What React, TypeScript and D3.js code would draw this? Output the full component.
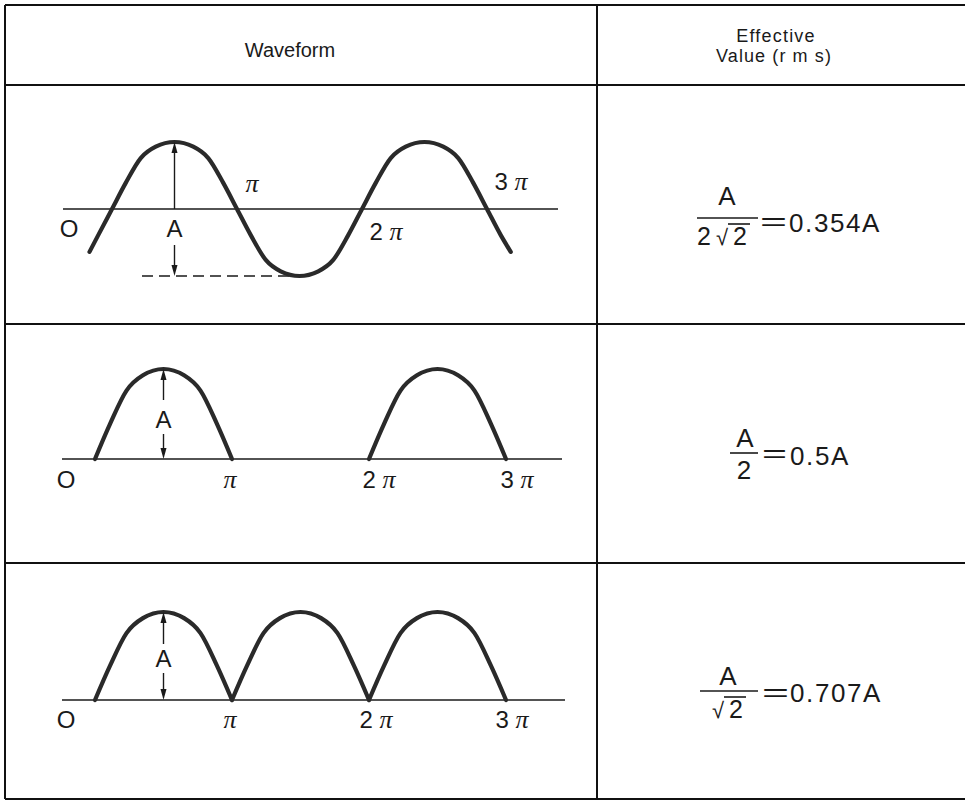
import React from "react";
import * as d3 from "d3";

// one half-period of the drawn hump (t in units of pi, v in units of A)
const humpT = [0, 0.11, 0.23, 0.35, 0.5, 0.65, 0.77, 0.89, 1];
const humpV = [0, 0.39, 0.76, 0.93, 1, 0.93, 0.76, 0.39, 0];

// row 1: full sine, signs of each half period plus the cut-off ends
const sineSigns = [1, -1, 1];
const sineStart = [
  [-0.18, -0.64],
  [-0.11, -0.39],
];
const sineEnd = [
  [3.11, -0.39],
  [3.19, -0.64],
];

// row 2: half-wave, row 3: full-wave rectified (start of each hump, in pi)
const halfWaveHumps = [0, 2];
const fullWaveHumps = [0, 1, 2];

const tickLabels = ["O", "π", "2π", "3π"];
const tickValues = [0, 1, 2, 3];

const headers = ["Waveform", "Effective", "Value (r m s)"];
const rmsNumer = ["A", "A", "A"];
const rmsDenom = ["2√2", "2", "√2"];
const rmsValue = ["0.354A", "0.5A", "0.707A"];

const sans = "'Liberation Sans', Arial, Helvetica, sans-serif";
const serif = "'Liberation Serif', 'Times New Roman', serif";
const ink = "#1a1a1a";

const humpPoints = (start: number, sign: number) =>
  humpT.map((t, i) => [start + t, sign * humpV[i]] as [number, number]);

const Label = ({ text, x, y }: { text: string; x: number; y: number }) => {
  // digit in sans, pi in serif italic
  const hasPi = text.includes("π");
  const num = text.replace("π", "");
  return (
    <text x={x} y={y} textAnchor="middle" fontSize={24} fill={ink} fontFamily={sans}>
      {num && <tspan>{num + (hasPi ? " " : "")}</tspan>}
      {hasPi && (
        <tspan fontFamily={serif} fontStyle="italic" fontSize={26}>
          π
        </tspan>
      )}
    </text>
  );
};

const Arrow = ({ x, y1, y2 }: { x: number; y1: number; y2: number }) => {
  // line from y1 to y2 with the head at y2
  const dir = y2 > y1 ? 1 : -1;
  const head = `M${x},${y2} L${x - 3},${y2 - dir * 11} L${x + 3},${y2 - dir * 11} Z`;
  return (
    <g>
      <line x1={x} x2={x} y1={y1} y2={y2 - dir * 6} stroke={ink} strokeWidth={1.4} />
      <path d={head} fill={ink} />
    </g>
  );
};

const Radical = ({ x, y, lead }: { x: number; y: number; lead: string }) => {
  // optional lead digit, then a radical sign over a 2
  const rx = x + (lead ? 19 : 0);
  return (
    <g fontFamily={sans} fontSize={25} fill={ink}>
      {lead && (
        <text x={x} y={y}>
          {lead}
        </text>
      )}
      <text x={rx} y={y} fontSize={22}>
        √
      </text>
      <line x1={rx + 12} x2={rx + 34} y1={y - 21} y2={y - 21} stroke={ink} strokeWidth={1.6} />
      <text x={rx + 17} y={y}>
        2
      </text>
    </g>
  );
};

export default function App() {
  const W = 965;
  const H = 801;

  const line = (x: d3.ScaleLinear<number, number>, y: d3.ScaleLinear<number, number>) =>
    d3
      .line<[number, number]>()
      .x((d) => x(d[0]))
      .y((d) => y(d[1]))
      .curve(d3.curveMonotoneX);

  // row 1 scales
  const x1 = d3.scaleLinear().domain([0, 1]).range([112, 237]);
  const y1 = d3.scaleLinear().domain([-1, 1]).range([276, 142]);
  const sinePts: [number, number][] = [...(sineStart as [number, number][])];
  sineSigns.forEach((s, k) => {
    humpPoints(k, s).forEach((p, i) => {
      if (k > 0 && i === 0) return;
      sinePts.push(p);
    });
  });
  sinePts.push(...(sineEnd as [number, number][]));

  // rows 2 and 3 share the x scale
  const x23 = d3.scaleLinear().domain([0, 1]).range([95, 232]);
  const y2 = d3.scaleLinear().domain([0, 1]).range([459, 369]);
  const y3 = d3.scaleLinear().domain([0, 1]).range([700, 612]);

  const wave = {
    stroke: "#2a2a2a",
    strokeWidth: 4.2,
    fill: "none",
    strokeLinecap: "round" as const,
    strokeLinejoin: "round" as const,
  };

  // label offsets from the tick positions, per row
  const row1Lab = [
    { dx: -43, y: 237 },
    { dx: 15, y: 192 },
    { dx: 24, y: 240 },
    { dx: 24, y: 190 },
  ];
  const row2Dx = [-29, -2, 10, 11];
  const row3Dx = [-29, -2, 7, 6];

  return (
    <svg
      width={W}
      height={H}
      style={{ position: "absolute", left: 0, top: 0, background: "#fff" }}
    >
      {/* table */}
      <g stroke="#111" strokeWidth={2}>
        <line x1={5} x2={W} y1={5} y2={5} />
        <line x1={5} x2={W} y1={85} y2={85} />
        <line x1={5} x2={W} y1={324} y2={324} />
        <line x1={5} x2={W} y1={563} y2={563} />
        <line x1={5} x2={W} y1={799} y2={799} />
        <line x1={5} x2={5} y1={5} y2={799} />
        <line x1={597} x2={597} y1={5} y2={799} />
      </g>

      <g fontFamily={sans} fill={ink} textAnchor="middle">
        <text x={290} y={57} fontSize={20}>
          {headers[0]}
        </text>
        <text x={776} y={42} fontSize={18} letterSpacing={1.2}>
          {headers[1]}
        </text>
        <text x={774} y={62} fontSize={18} letterSpacing={1.1}>
          {headers[2]}
        </text>
      </g>

      {/* row 1: sine */}
      <line x1={63} x2={558} y1={y1(0)} y2={y1(0)} stroke={ink} strokeWidth={1.5} />
      <line
        x1={142}
        x2={x1(1.5)}
        y1={y1(-1)}
        y2={y1(-1)}
        stroke={ink}
        strokeWidth={1.5}
        strokeDasharray="11 6"
      />
      <path d={line(x1, y1)(sinePts) || ""} {...wave} />
      <Arrow x={x1(0.5)} y1={y1(0)} y2={y1(1)} />
      <Arrow x={x1(0.5)} y1={245} y2={y1(-1)} />
      <text x={x1(0.5)} y={237} textAnchor="middle" fontSize={24} fontFamily={sans} fill={ink}>
        A
      </text>
      {tickValues.map((t, i) => (
        <Label key={"r1" + i} text={tickLabels[i]} x={x1(t) + row1Lab[i].dx} y={row1Lab[i].y} />
      ))}

      {/* row 2: half-wave */}
      <line x1={62} x2={562} y1={y2(0)} y2={y2(0)} stroke={ink} strokeWidth={1.5} />
      {halfWaveHumps.map((s) => (
        <path key={"h" + s} d={line(x23, y2)(humpPoints(s, 1)) || ""} {...wave} />
      ))}
      <Arrow x={x23(0.5)} y1={400} y2={y2(1)} />
      <Arrow x={x23(0.5)} y1={434} y2={y2(0)} />
      <text x={x23(0.5)} y={428} textAnchor="middle" fontSize={24} fontFamily={sans} fill={ink}>
        A
      </text>
      {tickValues.map((t, i) => (
        <Label key={"r2" + i} text={tickLabels[i]} x={x23(t) + row2Dx[i]} y={488} />
      ))}

      {/* row 3: full-wave */}
      <line x1={62} x2={565} y1={y3(0)} y2={y3(0)} stroke={ink} strokeWidth={1.5} />
      {fullWaveHumps.map((s) => (
        <path key={"f" + s} d={line(x23, y3)(humpPoints(s, 1)) || ""} {...wave} />
      ))}
      <Arrow x={x23(0.5)} y1={644} y2={y3(1)} />
      <Arrow x={x23(0.5)} y1={673} y2={y3(0)} />
      <text x={x23(0.5)} y={667} textAnchor="middle" fontSize={24} fontFamily={sans} fill={ink}>
        A
      </text>
      {tickValues.map((t, i) => (
        <Label key={"r3" + i} text={tickLabels[i]} x={x23(t) + row3Dx[i]} y={728} />
      ))}

      {/* effective values */}
      <g fontFamily={sans} fill={ink} fontSize={26}>
        {/* row 1 */}
        <text x={727} y={205} textAnchor="middle">
          {rmsNumer[0]}
        </text>
        <line x1={697} x2={758} y1={218} y2={218} stroke={ink} strokeWidth={1.6} />
        <Radical x={697} y={245} lead={rmsDenom[0].charAt(0)} />
        <text x={760} y={230} textLength={27} lengthAdjust="spacingAndGlyphs">
          =
        </text>
        <text x={789} y={232} letterSpacing={1.6}>
          {rmsValue[0]}
        </text>

        {/* row 2 */}
        <text x={745} y={447} textAnchor="middle">
          {rmsNumer[1]}
        </text>
        <line x1={730} x2={758} y1={453} y2={453} stroke={ink} strokeWidth={1.6} />
        <text x={744} y={479} textAnchor="middle">
          {rmsDenom[1]}
        </text>
        <text x={762} y={462} textLength={25} lengthAdjust="spacingAndGlyphs">
          =
        </text>
        <text x={790} y={465} letterSpacing={1.6}>
          {rmsValue[1]}
        </text>

        {/* row 3 */}
        <text x={728} y={685} textAnchor="middle">
          {rmsNumer[2]}
        </text>
        <line x1={700} x2={758} y1={691} y2={691} stroke={ink} strokeWidth={1.6} />
        <Radical x={712} y={718} lead="" />
        <text x={762} y={701} textLength={27} lengthAdjust="spacingAndGlyphs">
          =
        </text>
        <text x={790} y={702} letterSpacing={1.6}>
          {rmsValue[2]}
        </text>
      </g>
    </svg>
  );
}
